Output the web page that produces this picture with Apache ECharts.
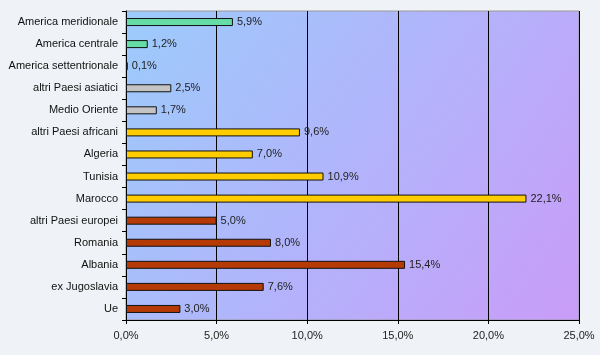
<!DOCTYPE html>
<html><head><meta charset="utf-8">
<script src="https://cdn.jsdelivr.net/npm/echarts@6/dist/echarts.min.js"></script>
<style>html,body{margin:0;padding:0;background:#eff2f6}#c{width:600px;height:355px}</style>
</head><body><div id="c"></div>
<script>
const categories = ["America meridionale","America centrale","America settentrionale","altri Paesi asiatici","Medio Oriente","altri Paesi africani","Algeria","Tunisia","Marocco","altri Paesi europei","Romania","Albania","ex Jugoslavia","Ue"];
const values = [5.9,1.2,0.1,2.5,1.7,9.6,7.0,10.9,22.1,5.0,8.0,15.4,7.6,3.0];
const groups = ["am","am","am","as","as","af","af","af","af","eu","eu","eu","eu","eu"];
const groupColors = {am:"#66dda6", as:"#c4c4c4", af:"#ffcc00", eu:"#b53a06"};
const xTicks = [0,5,10,15,20,25];

const fmt = v => v.toFixed(1).replace('.', ',') + '%';
const chart = echarts.init(document.getElementById('c'));
chart.setOption({
  backgroundColor: '#eff2f6',
  animation: false,
  grid: {
    left: 126, right: 21, top: 11, bottom: 35, show: true,
    borderColor: '#999', borderWidth: 1,
    backgroundColor: new echarts.graphic.LinearGradient(0, 0, 1, 1, [
      {offset: 0, color: '#9ccbfb'}, {offset: 0.5, color: '#b2b4fb'}, {offset: 1, color: '#c99cf8'}
    ])
  },
  xAxis: {
    type: 'value', min: xTicks[0], max: xTicks[xTicks.length-1], interval: 5,
    axisLine: {show: true, lineStyle: {color: '#000'}},
    axisTick: {show: true, length: 4, lineStyle: {color: '#000'}},
    splitLine: {show: true, lineStyle: {color: '#000', width: 1}},
    axisLabel: {formatter: v => fmt(v), color: '#222', fontFamily: 'Liberation Sans, Arial', fontSize: 11, margin: 10}
  },
  yAxis: {
    type: 'category', data: categories, inverse: true,
    axisLine: {show: true, lineStyle: {color: '#000'}},
    axisTick: {show: true, length: 4, lineStyle: {color: '#000'}},
    axisLabel: {color: '#111', fontFamily: 'Liberation Sans, Arial', fontSize: 11, margin: 8}
  },
  series: [{
    type: 'bar',
    data: values.map((v, i) => ({value: v, itemStyle: {color: groupColors[groups[i]]}})),
    barWidth: 8,
    itemStyle: {borderColor: '#111', borderWidth: 1},
    label: {show: true, position: 'right', distance: 4, formatter: p => fmt(p.value), color: '#222', fontFamily: 'Liberation Sans, Arial', fontSize: 11}
  }]
});
</script></body></html>
